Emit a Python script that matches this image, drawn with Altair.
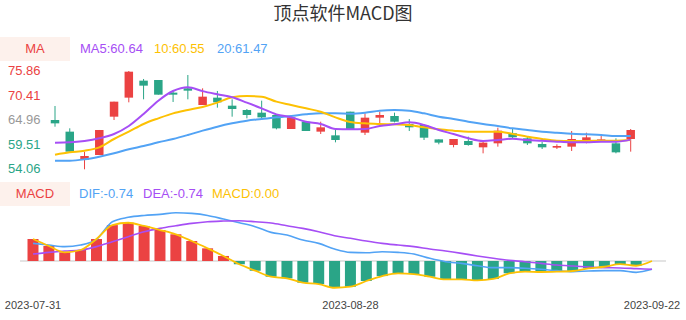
import altair as alt
import pandas as pd

# ---------------- data ----------------
opens = [64.99, 62.41, 56.12, 57.23, 65.73, 69.95, 73.72, 73.86, 71.06, 72.02,
         68.32, 69.95, 68.17, 67.21, 66.62, 66.10, 63.00, 64.62, 62.41, 61.59,
         66.84, 62.18, 65.51, 65.88, 64.11, 63.88, 60.70, 59.45, 60.34, 58.93,
         59.82, 62.04, 60.93, 59.67, 58.86, 59.08, 60.41, 60.45, 59.82, 60.78]
closes = [64.25, 57.97, 57.01, 62.78, 69.06, 75.71, 72.61, 70.61, 70.61, 71.50,
          70.17, 68.91, 67.43, 66.10, 65.58, 63.14, 65.58, 62.55, 63.37, 60.56,
          63.00, 65.51, 66.10, 64.62, 63.37, 61.07, 59.97, 60.78, 59.45, 59.97,
          62.63, 61.15, 59.82, 58.93, 59.23, 60.78, 61.15, 60.70, 57.82, 62.78]
highs = [68.10, 63.15, 57.97, 62.78, 69.06, 75.86, 74.09, 73.86, 71.65, 74.97,
         72.02, 71.43, 69.58, 67.43, 69.28, 66.10, 65.58, 64.62, 64.62, 62.78,
         66.84, 66.47, 66.84, 66.62, 65.21, 63.88, 60.70, 60.78, 61.30, 60.19,
         63.29, 63.00, 61.44, 60.19, 59.60, 62.55, 62.18, 61.44, 60.93, 63.00]
lows = [63.51, 57.97, 54.06, 57.23, 64.99, 68.91, 69.58, 70.61, 68.99, 69.58,
        68.32, 67.73, 65.73, 65.36, 65.36, 62.92, 63.00, 62.55, 61.89, 60.04,
        63.00, 61.67, 64.25, 64.47, 62.55, 60.56, 59.60, 58.93, 59.30, 57.60,
        59.08, 60.78, 59.45, 58.56, 58.56, 58.12, 59.82, 60.41, 57.60, 57.97]

ma5 = [59.97, 60.04, 60.34, 60.93, 61.89, 63.66, 66.32, 69.28, 71.42, 72.24,
       71.40, 70.69, 70.02, 68.84, 67.58, 66.25, 65.58, 64.62, 64.11, 63.00,
       62.92, 63.00, 63.66, 64.03, 64.47, 63.88, 62.77, 61.89, 60.93, 60.34,
       60.56, 60.85, 60.56, 60.41, 60.19, 60.04, 60.04, 60.19, 60.19, 60.64]
ma10 = [57.30, 57.82, 58.19, 58.93, 60.78, 62.41, 64.11, 65.36, 66.47, 67.21,
        67.88, 68.84, 70.02, 70.32, 70.17, 69.06, 68.32, 67.58, 66.84, 65.58,
        64.55, 64.25, 64.11, 64.03, 63.88, 63.37, 62.92, 62.63, 62.41, 62.41,
        62.41, 61.89, 61.30, 60.78, 60.41, 60.34, 60.34, 60.41, 60.41, 60.55]
ma20 = [55.97, 55.97, 56.27, 56.86, 57.60, 58.49, 59.23, 60.04, 60.78, 61.67,
        62.63, 63.51, 64.25, 64.85, 65.21, 65.58, 65.88, 66.25, 66.47, 66.47,
        66.40, 66.62, 67.06, 67.21, 67.06, 66.47, 65.73, 65.21, 64.62, 64.11,
        63.66, 63.14, 62.77, 62.41, 62.18, 61.96, 61.81, 61.67, 61.44, 61.47]

dif = [1.57, 1.42, 1.28, 1.42, 1.93, 3.50, 3.89, 4.06, 4.15, 4.30,
       4.24, 4.06, 3.74, 3.41, 3.06, 2.55, 2.31, 1.87, 1.57, 1.07,
       0.77, 0.74, 0.83, 0.77, 0.62, 0.24, -0.06, -0.21, -0.42, -0.59,
       -0.59, -0.65, -0.74, -0.86, -0.95, -0.89, -0.86, -0.86, -1.01, -0.74]
dea = [0.62, 0.77, 0.89, 0.98, 1.28, 1.72, 2.17, 2.61, 2.91, 3.14,
       3.35, 3.50, 3.56, 3.59, 3.50, 3.38, 3.14, 2.91, 2.61, 2.25,
       2.02, 1.78, 1.57, 1.42, 1.28, 1.07, 0.89, 0.68, 0.45, 0.24,
       0.06, -0.06, -0.21, -0.36, -0.45, -0.53, -0.59, -0.62, -0.68, -0.74]
macd = [1.96, 1.34, 0.77, 0.98, 1.96, 3.20, 3.41, 3.12, 2.76, 2.38,
        1.78, 1.13, 0.45, -0.29, -0.86, -1.40, -1.54, -1.93, -2.05, -2.38,
        -2.29, -1.78, -1.34, -1.10, -1.16, -1.40, -1.63, -1.63, -1.72, -1.60,
        -1.10, -0.95, -0.98, -0.95, -0.89, -0.65, -0.51, -0.27, -0.42, 0.00]

y_tick_values = [75.86, 70.41, 64.96, 59.51, 54.06]
y_tick_kind = ["up", "up", "mid", "down", "down"]
date_tick_index = [0, 20, 39]
date_tick_labels = ["2023-07-31", "2023-08-28", "2023-09-22"]

TITLE = "顶点软件MACD图"

# ---------------- styles ----------------
RED = "#eb4242"
GREEN = "#2aa587"
GREY = "#999999"
PURPLE = "#a64ef5"
YELLOW = "#fdc103"
BLUE = "#52a3f5"
BOX = "#fdf1ec"
FONT = "Liberation Sans"

n = len(closes)
candles = pd.DataFrame({
    "idx": list(range(n)), "open": opens, "close": closes,
    "high": highs, "low": lows,
    "ma5": ma5, "ma10": ma10, "ma20": ma20,
})
macd_df = pd.DataFrame({"idx": list(range(n)), "dif": dif, "dea": dea, "macd": macd})
yticks = pd.DataFrame({"v": y_tick_values, "kind": y_tick_kind,
                       "label": [f"{v:.2f}" for v in y_tick_values]})
dticks = pd.DataFrame({"idx": date_tick_index, "label": date_tick_labels})

# ---------------- candle panel ----------------
xk = alt.X("idx:Q", scale=alt.Scale(domain=[0, n - 1], range=[50, 635.7], nice=False, zero=False), axis=None)
yscale_k = alt.Scale(domain=[54.06, 75.86], range=[169.3, 71], nice=False, zero=False)
updown = alt.condition("datum.close >= datum.open", alt.value(RED), alt.value(GREEN))

wicks = alt.Chart(candles).mark_rule(strokeWidth=1).encode(
    x=xk, y=alt.Y("low:Q", scale=yscale_k, axis=None), y2="high:Q", color=updown)
bodies = alt.Chart(candles).mark_bar(width=8.5).encode(
    x=xk, y=alt.Y("open:Q", scale=yscale_k, axis=None), y2="close:Q", color=updown)


def ma_line(field, color):
    return alt.Chart(candles).mark_line(color=color, strokeWidth=2, interpolate="monotone").encode(
        x=xk, y=alt.Y(f"{field}:Q", scale=yscale_k, axis=None))


ylabels = alt.Chart(yticks).mark_text(align="left", baseline="middle", font=FONT, fontSize=13).encode(
    x=alt.value(8), y=alt.Y("v:Q", scale=yscale_k, axis=None), text="label:N",
    color=alt.Color("kind:N", scale=alt.Scale(domain=["up", "mid", "down"], range=[RED, GREY, GREEN]),
                    legend=None))

candle_layer = alt.layer(wicks, bodies, ma_line("ma20", BLUE), ma_line("ma10", YELLOW),
                         ma_line("ma5", PURPLE), ylabels)

# ---------------- MACD panel ----------------
xm = alt.X("idx:Q", scale=alt.Scale(domain=[0, n - 1], range=[28, 657], nice=False, zero=False), axis=None)
yscale_m = alt.Scale(domain=[-3, 4], range=[294.7, 216.1], nice=False, zero=False)

zero = alt.Chart(macd_df).mark_rule(color="#e3e3e3", strokeWidth=1.5).encode(
    x=alt.value(20), x2=alt.value(666), y=alt.Y(datum=0, scale=yscale_m, axis=None))
bars = alt.Chart(macd_df).mark_bar(width=11).encode(
    x=xm, y=alt.Y("macd:Q", scale=yscale_m, axis=None), y2=alt.datum(0),
    color=alt.condition("datum.macd >= 0", alt.value(RED), alt.value(GREEN)))


def m_line(field, color, w):
    return alt.Chart(macd_df).mark_line(color=color, strokeWidth=w, interpolate="monotone").encode(
        x=xm, y=alt.Y(f"{field}:Q", scale=yscale_m, axis=None))


dlabels = alt.Chart(dticks).mark_text(align="center", baseline="middle", font=FONT, fontSize=11,
                                      color="#444444").encode(
    x=xm, y=alt.value(306), text="label:N")

macd_layer = alt.layer(zero, bars, m_line("dif", BLUE, 1.6), m_line("dea", PURPLE, 1.6),
                       m_line("macd", YELLOW, 1.8), dlabels)

# ---------------- headers / legends ----------------
dummy = pd.DataFrame({"a": [0]})


def box(y0, y1):
    return alt.Chart(dummy).mark_rect(color=BOX).encode(
        x=alt.value(0), x2=alt.value(70), y=alt.value(y0), y2=alt.value(y1))


def label(text, x, y, color, align="left", size=13, font=FONT):
    return alt.Chart(dummy).mark_text(text=text, align=align, baseline="middle", color=color,
                                      fontSize=size, font=font).encode(
        x=alt.value(x), y=alt.value(y))


headers = [
    label(TITLE, 343, 15, "#333333", align="center", size=18, font="Noto Sans CJK SC"),
    box(37, 61),
    label("MA", 35, 49, RED, align="center"),
    label(f"MA5:{ma5[-1]:.2f}", 80, 49, PURPLE),
    label(f"10:{ma10[-1]:.2f}", 154, 49, YELLOW),
    label(f"20:{ma20[-1]:.2f}", 217, 49, BLUE),
    box(182, 206),
    label("MACD", 35, 194, RED, align="center"),
    label(f"DIF:{dif[-1]:.2f}", 79, 194, BLUE),
    label(f"DEA:{dea[-1]:.2f}", 143, 194, PURPLE),
    label(f"MACD:{macd[-1]:.2f}", 212, 194, YELLOW),
]

chart = alt.layer(*headers, candle_layer, macd_layer).resolve_scale(
    x="independent", y="independent", color="independent"
).properties(width=686, height=320, padding=0, autosize="none").configure_view(stroke=None)

chart.save("out.html", embed_options={"renderer": "svg", "actions": False})
